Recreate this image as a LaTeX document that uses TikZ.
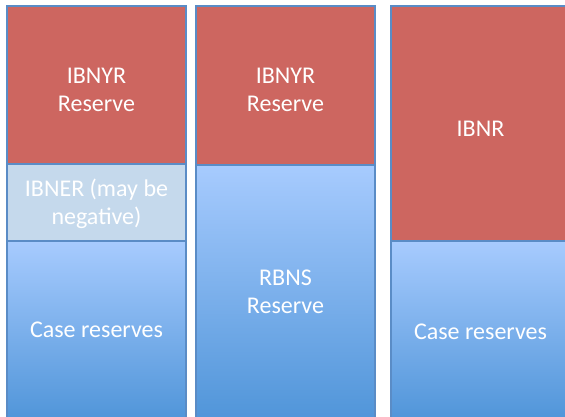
\documentclass[tikz,border=0pt]{standalone}
\usepackage{fontspec}
\setmainfont{Carlito}
\usetikzlibrary{shadows}

\definecolor{resred}{HTML}{CD6660}
\definecolor{ibnerblue}{HTML}{C5D9EC}
\definecolor{casetop}{HTML}{A7CBFE}
\definecolor{casebot}{HTML}{5095D9}
\definecolor{edgeblue}{HTML}{5A8CC6}

\tikzset{
  block/.style={draw=edgeblue, line width=1.2pt, inner sep=0pt, minimum width=179pt,
    drop shadow={shadow xshift=1.2pt, shadow yshift=-1.2pt, opacity=0.25}},
  redblock/.style={block, fill=resred},
  paleblock/.style={block, fill=ibnerblue},
  caseblock/.style={block, top color=casetop, bottom color=casebot},
  lbl/.style={text=white, align=center, font=\fontsize{24}{27.5}\selectfont, inner sep=0pt},
}

\begin{document}
\begin{tikzpicture}[x=1pt,y=-1pt]
  \useasboundingbox (0,0) rectangle (565,417);
  \fill[white] (0,0) rectangle (565,417);
  \clip (0,0) rectangle (565,417);

  % first column: IBNYR, IBNER, case reserves
  \node[redblock, minimum height=158pt] (ibnyrA) at (96.5,85) {};
  \node[paleblock, minimum height=77pt] (ibner) at (96.5,202.5) {};
  \node[caseblock, minimum height=179pt] (caseA) at (96.5,330.5) {};
  \node[lbl] (ibnyrAtxt) at (96.5,90) {IBNYR\\Reserve};
  \node[lbl] (ibnertxt) at (96.5,204) {IBNER (may be\\negative)};
  \node[lbl] (caseAtxt) at (96.5,330) {Case reserves};

  % second column: IBNYR and RBNS
  \node[redblock, minimum height=159pt] (ibnyrB) at (285.5,85.5) {};
  \node[caseblock, minimum height=255pt] (rbns) at (285.5,292.5) {};
  \node[lbl] (ibnyrBtxt) at (285.5,90) {IBNYR\\Reserve};
  \node[lbl] (rbnstxt) at (285.5,292) {RBNS\\Reserve};

  % third column: IBNR and case reserves
  \node[redblock, minimum height=235pt] (ibnr) at (480.5,123.5) {};
  \node[caseblock, minimum height=179pt] (caseC) at (480.5,330.5) {};
  \node[lbl] (ibnrtxt) at (480.5,129) {IBNR};
  \node[lbl] (caseCtxt) at (480.5,332) {Case reserves};
\end{tikzpicture}
\end{document}
